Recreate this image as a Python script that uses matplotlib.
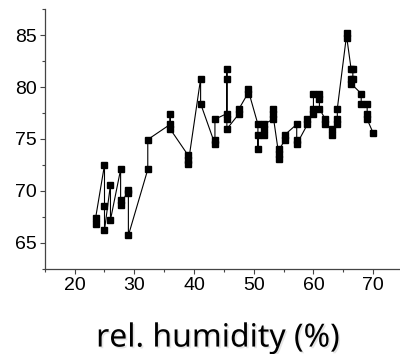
import matplotlib
matplotlib.use("Agg")
import matplotlib.pyplot as plt
import matplotlib.patheffects as pe
from matplotlib.ticker import MultipleLocator

plt.rcParams["font.family"] = ["Liberation Sans", "DejaVu Sans"]

humidity = [23.5, 23.5, 25.0, 25.0, 25.0, 26.0, 26.0, 27.7, 27.7, 27.7,
            29.0, 29.0, 29.0, 32.25, 32.25, 36.0, 36.0, 36.0, 39.0, 39.0,
            39.0, 41.1, 41.1, 43.5, 43.5, 43.5, 45.5, 45.5, 45.5, 45.5,
            45.5, 47.55, 47.55, 49.0, 49.0, 50.7, 50.7, 50.7, 51.7, 51.7,
            51.7, 53.2, 53.2, 53.2, 54.3, 54.3, 54.3, 55.25, 55.25, 57.2,
            57.2, 57.2, 59.0, 59.0, 60.0, 60.0, 60.0, 61.0, 61.0, 61.0,
            62.0, 62.0, 63.1, 63.1, 64.0, 64.0, 64.0, 65.6, 65.6, 66.3,
            66.6, 66.6, 66.3, 66.3, 68.0, 68.0, 69.0, 69.0, 69.0, 70.0]
values = [66.8, 67.35, 72.5, 68.56, 66.2, 70.6, 67.2, 72.06, 69.1, 68.65,
          70.07, 69.75, 65.7, 72.06, 74.94, 76.4, 77.4, 75.96, 73.43, 72.95,
          72.54, 80.8, 78.4, 74.5, 74.94, 76.9, 77.44, 81.77, 80.81, 76.89,
          75.96, 77.44, 77.92, 79.37, 79.85, 76.41, 74.01, 75.42, 75.42, 75.96,
          76.41, 76.89, 77.92, 77.44, 73.05, 73.53, 74.01, 74.94, 75.42, 76.41,
          74.94, 74.49, 76.41, 76.89, 77.44, 77.92, 79.37, 79.37, 78.88, 77.92,
          76.89, 76.41, 75.96, 75.42, 76.41, 76.89, 77.92, 85.23, 84.71, 81.77,
          81.77, 80.81, 80.81, 80.33, 79.37, 78.4, 78.4, 77.44, 76.89, 75.58]

x_ticks = [20, 30, 40, 50, 60, 70]
y_ticks = [65, 70, 75, 80, 85]
x_label = "rel. humidity (%)"

fig = plt.figure(figsize=(4.0, 3.54), dpi=100)
ax = fig.add_axes([0.112, 0.241, 0.888, 0.733])
ax.plot(humidity, values, color="black", lw=0.8, marker="s", ms=4.0,
        mfc="black", mec="black")
ax.set_xlim(15, 74.5)
ax.set_ylim(62.5, 87.5)
ax.set_xticks(x_ticks)
ax.set_yticks(y_ticks)
ax.xaxis.set_minor_locator(MultipleLocator(5))
ax.yaxis.set_minor_locator(MultipleLocator(2.5))
for s in ["top", "right"]:
    ax.spines[s].set_visible(False)
for s in ["left", "bottom"]:
    ax.spines[s].set_color("#444444")
    ax.spines[s].set_linewidth(0.9)
ax.tick_params(which="major", direction="out", length=3.5, width=0.8,
               color="#444444", labelsize=14, pad=2.5)
ax.tick_params(which="minor", direction="out", length=2, width=0.8,
               color="#444444")

t = fig.text(0.545, 0.021, x_label, ha="center", va="baseline",
             fontsize=23, family="Noto Sans", color="black")
t.set_path_effects([pe.withSimplePatchShadow(offset=(1.2, -1.2),
                                             shadow_rgbFace="gray", alpha=0.2)])

fig.savefig("out.png", dpi=100)
